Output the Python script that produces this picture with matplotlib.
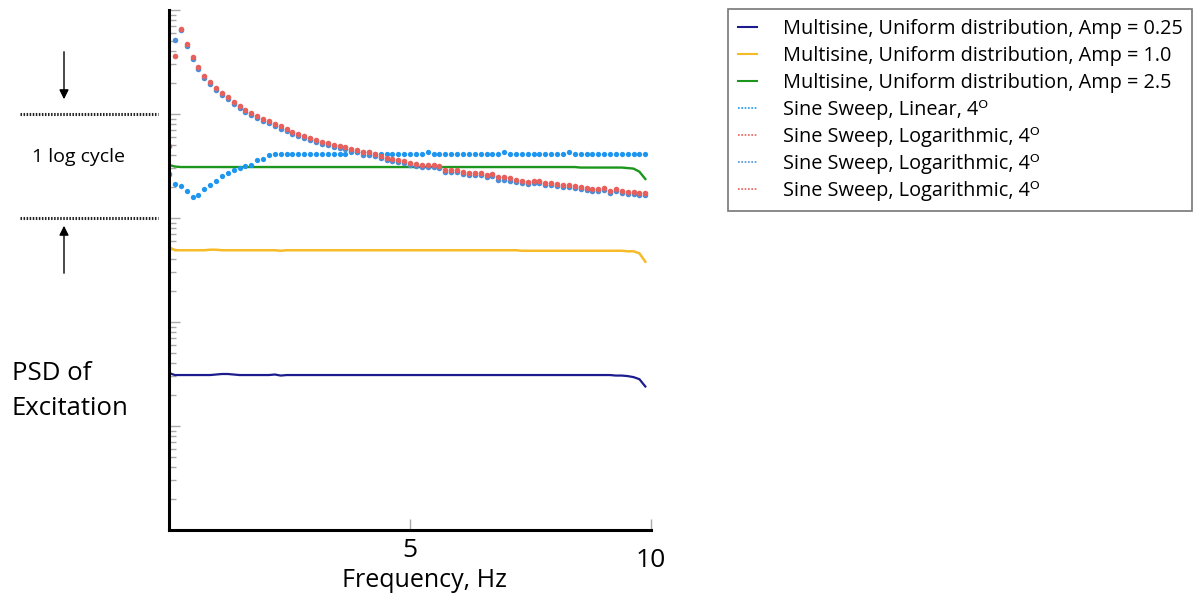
import numpy as np
import matplotlib.pyplot as plt
from matplotlib.lines import Line2D
from matplotlib import transforms

plt.rcParams["font.family"] = ["Open Sans", "DejaVu Sans"]

# frequency grid of the sweeps / multisines (Hz)
FREQ_STEP = 0.122
N_POINTS = 82

# PSD values, in dB (10*log10)
multisine_025_db = [
    -44.9, -45.1, -45.1, -45.1, -45.1, -45.1, -45.1, -45.1, -45.05, -45.0,
    -45.0, -45.05, -45.1, -45.1, -45.1, -45.1, -45.1, -45.1, -45.05, -45.15,
    -45.1, -45.1, -45.1, -45.1, -45.1, -45.1, -45.1, -45.1, -45.1, -45.1,
    -45.1, -45.1, -45.1, -45.1, -45.1, -45.1, -45.1, -45.1, -45.1, -45.1,
    -45.1, -45.1, -45.1, -45.1, -45.1, -45.1, -45.1, -45.1, -45.1, -45.1,
    -45.1, -45.1, -45.1, -45.1, -45.1, -45.1, -45.1, -45.1, -45.1, -45.1,
    -45.1, -45.1, -45.1, -45.1, -45.1, -45.1, -45.1, -45.1, -45.1, -45.1,
    -45.1, -45.1, -45.1, -45.1, -45.1, -45.1, -45.15, -45.15, -45.2, -45.3,
    -45.5, -46.2,
]
multisine_10_db = [
    -32.8, -33.1, -33.1, -33.1, -33.1, -33.1, -33.1, -33.05, -33.05, -33.1,
    -33.1, -33.1, -33.1, -33.1, -33.1, -33.1, -33.1, -33.1, -33.1, -33.15,
    -33.1, -33.1, -33.1, -33.1, -33.1, -33.1, -33.1, -33.1, -33.1, -33.1,
    -33.1, -33.1, -33.1, -33.1, -33.1, -33.1, -33.1, -33.1, -33.1, -33.1,
    -33.1, -33.1, -33.1, -33.1, -33.1, -33.1, -33.1, -33.1, -33.1, -33.1,
    -33.1, -33.1, -33.1, -33.1, -33.1, -33.1, -33.1, -33.1, -33.1, -33.1,
    -33.15, -33.15, -33.15, -33.15, -33.15, -33.15, -33.15, -33.15, -33.15, -33.15,
    -33.15, -33.15, -33.15, -33.15, -33.15, -33.15, -33.15, -33.15, -33.2, -33.2,
    -33.4, -34.2,
]
multisine_25_db = [
    -24.9, -25.05, -25.1, -25.1, -25.1, -25.1, -25.1, -25.1, -25.1, -25.1,
    -25.1, -25.1, -25.1, -25.1, -25.1, -25.1, -25.1, -25.1, -25.1, -25.1,
    -25.1, -25.1, -25.1, -25.1, -25.1, -25.1, -25.1, -25.1, -25.1, -25.1,
    -25.1, -25.1, -25.1, -25.1, -25.1, -25.1, -25.1, -25.1, -25.1, -25.1,
    -25.1, -25.1, -25.1, -25.1, -25.1, -25.1, -25.1, -25.1, -25.1, -25.1,
    -25.1, -25.1, -25.1, -25.1, -25.1, -25.1, -25.1, -25.1, -25.1, -25.1,
    -25.1, -25.1, -25.1, -25.1, -25.1, -25.1, -25.1, -25.1, -25.1, -25.1,
    -25.15, -25.15, -25.15, -25.15, -25.15, -25.15, -25.15, -25.15, -25.2, -25.25,
    -25.55, -26.25,
]
sweep_linear_db = [
    -25.8, -26.7, -26.9, -27.4, -28.0, -27.8, -27.2, -26.8, -26.4, -26.0,
    -25.7, -25.4, -25.2, -25.0, -24.9, -24.4, -24.3, -23.9, -23.8, -23.8,
    -23.8, -23.8, -23.8, -23.8, -23.8, -23.8, -23.8, -23.8, -23.8, -23.8,
    -23.8, -23.7, -23.7, -23.7, -23.7, -23.8, -23.8, -23.8, -23.8, -23.8,
    -23.8, -23.8, -23.8, -23.8, -23.7, -23.8, -23.8, -23.8, -23.8, -23.8,
    -23.8, -23.8, -23.8, -23.8, -23.8, -23.8, -23.8, -23.7, -23.8, -23.8,
    -23.8, -23.8, -23.8, -23.8, -23.8, -23.8, -23.8, -23.8, -23.7, -23.8,
    -23.8, -23.8, -23.8, -23.8, -23.8, -23.8, -23.8, -23.8, -23.8, -23.8,
    -23.8, -23.8,
]
sweep_log_red_db = [
    -23.1, -14.4, -11.8, -13.3, -14.5, -15.5, -16.3, -16.9, -17.5, -18.0,
    -18.4, -18.8, -19.2, -19.6, -19.9, -20.2, -20.5, -20.7, -21.0, -21.2,
    -21.4, -21.7, -21.9, -22.1, -22.3, -22.5, -22.7, -22.8, -23.0, -23.1,
    -23.2, -23.4, -23.5, -23.7, -23.7, -23.8, -24.0, -24.2, -24.3, -24.4,
    -24.5, -24.7, -24.8, -24.9, -24.9, -24.9, -25.0, -25.4, -25.4, -25.4,
    -25.6, -25.7, -25.7, -25.7, -25.9, -25.8, -26.1, -26.1, -26.2, -26.3,
    -26.4, -26.5, -26.4, -26.4, -26.6, -26.6, -26.7, -26.8, -26.8, -26.9,
    -27.0, -27.1, -27.2, -27.2, -27.1, -27.4, -27.2, -27.4, -27.5, -27.5,
    -27.6, -27.6,
]
sweep_log_blue_db = [
    -25.8, -12.9, -11.9, -13.5, -14.7, -15.7, -16.5, -17.1, -17.7, -18.2,
    -18.6, -19.0, -19.4, -19.8, -20.1, -20.4, -20.7, -20.9, -21.2, -21.4,
    -21.6, -21.9, -22.1, -22.3, -22.5, -22.7, -22.9, -23.0, -23.2, -23.3,
    -23.4, -23.6, -23.7, -23.9, -23.9, -24.0, -24.2, -24.4, -24.5, -24.6,
    -24.7, -24.9, -25.0, -25.1, -25.1, -25.1, -25.2, -25.6, -25.6, -25.6,
    -25.8, -25.9, -25.9, -25.9, -26.1, -26.0, -26.3, -26.3, -26.4, -26.5,
    -26.6, -26.7, -26.6, -26.6, -26.8, -26.8, -26.9, -27.0, -27.0, -27.1,
    -27.2, -27.3, -27.4, -27.4, -27.3, -27.6, -27.4, -27.6, -27.7, -27.7,
    -27.8, -27.8,
]

labels = [
    "Multisine, Uniform distribution, Amp = 0.25",
    "Multisine, Uniform distribution, Amp = 1.0",
    "Multisine, Uniform distribution, Amp = 2.5",
    "Sine Sweep, Linear, 4\u1d3c",
    "Sine Sweep, Logarithmic, 4\u1d3c",
    "Sine Sweep, Logarithmic, 4\u1d3c",
    "Sine Sweep, Logarithmic, 4\u1d3c",
]

NAVY = "#1c1c8e"
YELLOW = "#f7bb2a"
GREEN = "#1c961c"
LIN_BLUE = "#1e96f0"
LOG_BLUE = "#4a8fd8"
LOG_RED = "#e8605c"


def to_psd(db):
    return 10 ** (np.array(db) / 10.0)


freq = np.arange(N_POINTS) * FREQ_STEP

fig = plt.figure(figsize=(11.94, 5.94), dpi=100)
ax = fig.add_axes([169 / 1194, 64 / 594, 482 / 1194, 520 / 594])

ax.plot(freq, to_psd(multisine_025_db), color=NAVY, lw=1.6)
ax.plot(freq, to_psd(multisine_10_db), color=YELLOW, lw=1.8)
ax.plot(freq, to_psd(multisine_25_db), color=GREEN, lw=1.7)
ax.plot(freq, to_psd(sweep_linear_db), ls="none", marker="o", ms=3.8, mew=0, color=LIN_BLUE)
ax.plot(freq, to_psd(sweep_log_blue_db), ls="none", marker="o", ms=4.0, mew=0, color=LOG_BLUE)
ax.plot(freq, to_psd(sweep_log_red_db), ls="none", marker="o", ms=4.0, mew=0, color=LOG_RED)

ax.set_yscale("log")
ax.set_ylim(1e-6, 1e-1)
ax.set_xlim(0, 10)

for side in ["top", "right"]:
    ax.spines[side].set_visible(False)
for side in ["left", "bottom"]:
    ax.spines[side].set_linewidth(2.2)
    ax.spines[side].set_color("black")

ax.tick_params(axis="y", which="major", direction="in", length=8, width=1,
               color="#aaaaaa", labelleft=False)
ax.tick_params(axis="y", which="minor", direction="in", length=5, width=1,
               color="#aaaaaa", labelleft=False)
ax.set_xticks([5, 10])
ax.set_xticklabels(["5", "10"])
ax.tick_params(axis="x", which="major", direction="in", length=8, width=1,
               color="#aaaaaa", labelsize=19, pad=6)
ax.tick_params(axis="x", which="minor", bottom=False)
ax.xaxis.get_major_ticks()[1].set_pad(13)

fig.text(424 / 1194, 1 - 587 / 594, "Frequency, Hz", ha="center", va="baseline", fontsize=18)

# left side annotation
fig.text(12 / 1194, 1 - 380 / 594, "PSD of", ha="left", va="baseline", fontsize=18.5)
fig.text(12 / 1194, 1 - 415 / 594, "Excitation", ha="left", va="baseline", fontsize=18.5)
fig.text(79 / 1194, 1 - 157 / 594, "1 log cycle", ha="center", va="center", fontsize=14)

blend = transforms.blended_transform_factory(fig.transFigure, ax.transData)
for level in [1e-2, 1e-3]:
    ax.plot([20 / 1194, 158 / 1194], [level, level], transform=blend, clip_on=False,
            color="#222222", lw=2.2, ls=(0, (0.5, 0.5)))

ax.annotate("", xy=(64 / 1194, 1 - 102 / 594), xytext=(64 / 1194, 1 - 49 / 594),
            xycoords="figure fraction", textcoords="figure fraction",
            arrowprops=dict(arrowstyle="-|>", color="black", lw=1, mutation_scale=14))
ax.annotate("", xy=(64 / 1194, 1 - 223 / 594), xytext=(64 / 1194, 1 - 276 / 594),
            xycoords="figure fraction", textcoords="figure fraction",
            arrowprops=dict(arrowstyle="-|>", color="black", lw=1, mutation_scale=14))

handles = [
    Line2D([], [], color=NAVY, lw=1.5),
    Line2D([], [], color=YELLOW, lw=1.5),
    Line2D([], [], color=GREEN, lw=1.5),
    Line2D([], [], color=LIN_BLUE, lw=1.2, ls=(0, (1, 1))),
    Line2D([], [], color=LOG_RED, lw=1.2, ls=(0, (1, 1))),
    Line2D([], [], color=LOG_BLUE, lw=1.2, ls=(0, (1, 1))),
    Line2D([], [], color=LOG_RED, lw=1.2, ls=(0, (1, 1))),
]
leg = fig.legend(handles, labels, loc="upper left", bbox_to_anchor=(728 / 1194, 1 - 9 / 594),
                 fontsize=14.3, frameon=True, fancybox=False, borderaxespad=0,
                 borderpad=0.5, handlelength=0.95, handletextpad=1.3, labelspacing=0.35)
leg.get_frame().set_edgecolor("#555555")
leg.get_frame().set_linewidth(1.2)

fig.savefig("out.png", dpi=100)
